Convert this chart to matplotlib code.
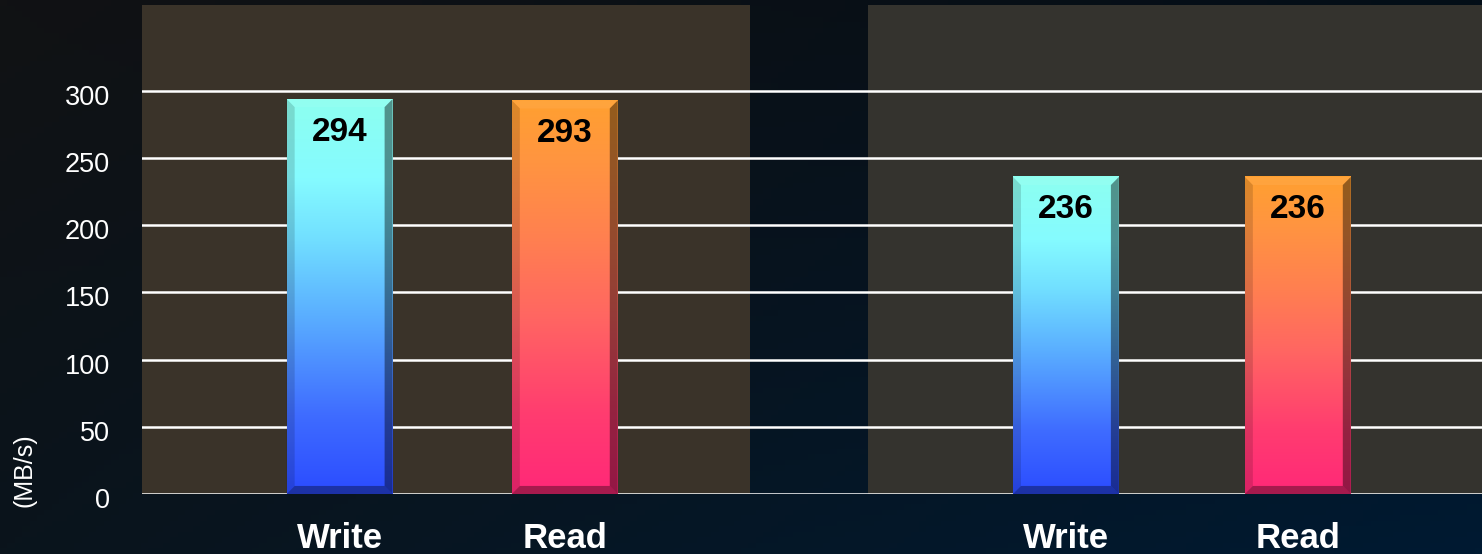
import numpy as np
import matplotlib
matplotlib.use("Agg")
import matplotlib.pyplot as plt
import matplotlib.transforms as mtransforms
from matplotlib.colors import LinearSegmentedColormap
from matplotlib.patches import Polygon, Rectangle

# ---- data ----
categories = ["Write", "Read"]
group1_values = [294, 293]
group2_values = [236, 236]
y_ticks = [0, 50, 100, 150, 200, 250, 300]
y_label = "(MB/s)"

# ---- layout ----
W, H = 1482, 554
fig = plt.figure(figsize=(W / 100, H / 100), dpi=100)
FONT = "Liberation Sans"

# background gradient
bg = fig.add_axes([0, 0, 1, 1], zorder=-5)
nx, ny = 200, 100
xx, yy = np.meshgrid(np.linspace(0, 1, nx), np.linspace(0, 1, ny))  # yy: 0 top
tl = np.array([17, 18, 20]) / 255
tr = np.array([3, 14, 24]) / 255
bl = np.array([10, 20, 28]) / 255
br = np.array([0, 26, 50]) / 255
img = ((1 - xx)[..., None] * (1 - yy)[..., None] * tl + xx[..., None] * (1 - yy)[..., None] * tr
       + (1 - xx)[..., None] * yy[..., None] * bl + xx[..., None] * yy[..., None] * br)
bg.imshow(img, extent=[0, 1, 0, 1], aspect="auto", origin="upper")
bg.axis("off")

ax = fig.add_axes([142 / W, 60 / H, 1340 / W, 489 / H])
ax.set_facecolor("none")
YMAX = 364
XMAX = 2.19
panel_starts = [0.0, 1.186]
panel_widths = [0.994, XMAX - 1.186]
panel_bar_offsets = [[0.323, 0.691], [0.324, 0.703]]
bar_width = 0.173
panel_colors = ["#3a3329", "#34332e"]

for ps, pw, pc in zip(panel_starts, panel_widths, panel_colors):
    ax.add_patch(Rectangle((ps, 0), pw, YMAX, facecolor=pc, edgecolor="none", zorder=0))

# gridlines
for t in y_ticks:
    ax.axhline(t, color="white", lw=1.8, zorder=1)

write_cmap = LinearSegmentedColormap.from_list(
    "w", [(0, "#2b4cff"), (0.2, "#3f6cff"), (0.45, "#5aaeff"), (0.65, "#72e0ff"),
          (0.8, "#85fbff"), (1, "#8dfff0")])
read_cmap = LinearSegmentedColormap.from_list(
    "r", [(0, "#ff2878"), (0.2, "#ff3c70"), (0.45, "#ff6662"), (0.65, "#ff8050"),
          (0.85, "#ff9540"), (1, "#ffa030")])
cmaps = [write_cmap, read_cmap]

bw = 0.013
bh = 6.0
centers = []
labels = []
for ps, offs, vals in zip(panel_starts, panel_bar_offsets, [group1_values, group2_values]):
    for off, v, cmap, cat in zip(offs, vals, cmaps, categories):
        c = ps + off
        centers.append(c)
        labels.append(cat)
        x0, x1 = c - bar_width / 2, c + bar_width / 2
        grad = np.linspace(0, 1, 256).reshape(-1, 1)
        ax.imshow(grad, cmap=cmap, extent=[x0, x1, 0, v], origin="lower",
                  aspect="auto", zorder=3, interpolation="bilinear")
        # bevels
        ax.add_patch(Polygon([(x0, 0), (x0 + bw, bh), (x0 + bw, v - bh), (x0, v)],
                             closed=True, facecolor="black", alpha=0.14, edgecolor="none", zorder=4))
        ax.add_patch(Polygon([(x1, 0), (x1 - bw, bh), (x1 - bw, v - bh), (x1, v)],
                             closed=True, facecolor="black", alpha=0.42, edgecolor="none", zorder=4))
        ax.add_patch(Polygon([(x0, 0), (x1, 0), (x1 - bw, bh), (x0 + bw, bh)],
                             closed=True, facecolor="black", alpha=0.35, edgecolor="none", zorder=4))
        ax.add_patch(Polygon([(x0, v), (x1, v), (x1 - bw, v - bh), (x0 + bw, v - bh)],
                             closed=True, facecolor="white", alpha=0.06, edgecolor="none", zorder=4))
        ax.annotate(str(v), xy=(c, v), xytext=(0, -33), textcoords="offset pixels",
                    ha="center", va="center", fontsize=24, fontweight="bold",
                    color="black", family=FONT, zorder=6)

ax.set_xlim(0, XMAX)
ax.set_ylim(0, YMAX)
ax.set_yticks(y_ticks)
ax.set_yticklabels([str(t) for t in y_ticks], family=FONT, fontsize=19.5, color="white")
ax.set_xticks(centers)
ax.set_xticklabels(labels, family=FONT, fontsize=25, fontweight="bold", color="white")
ax.tick_params(axis="y", length=0, pad=23)
ax.tick_params(axis="x", length=0, pad=20)
shift = mtransforms.ScaledTranslation(0, -4 / 100, fig.dpi_scale_trans)
for lbl in ax.get_yticklabels():
    lbl.set_transform(lbl.get_transform() + shift)
for s in ax.spines.values():
    s.set_visible(False)

fig.text(25 / W, (H - 470) / H, y_label, rotation=90, ha="center", va="center",
         fontsize=18, color="white", family=FONT)

fig.savefig("out.png", dpi=100)
